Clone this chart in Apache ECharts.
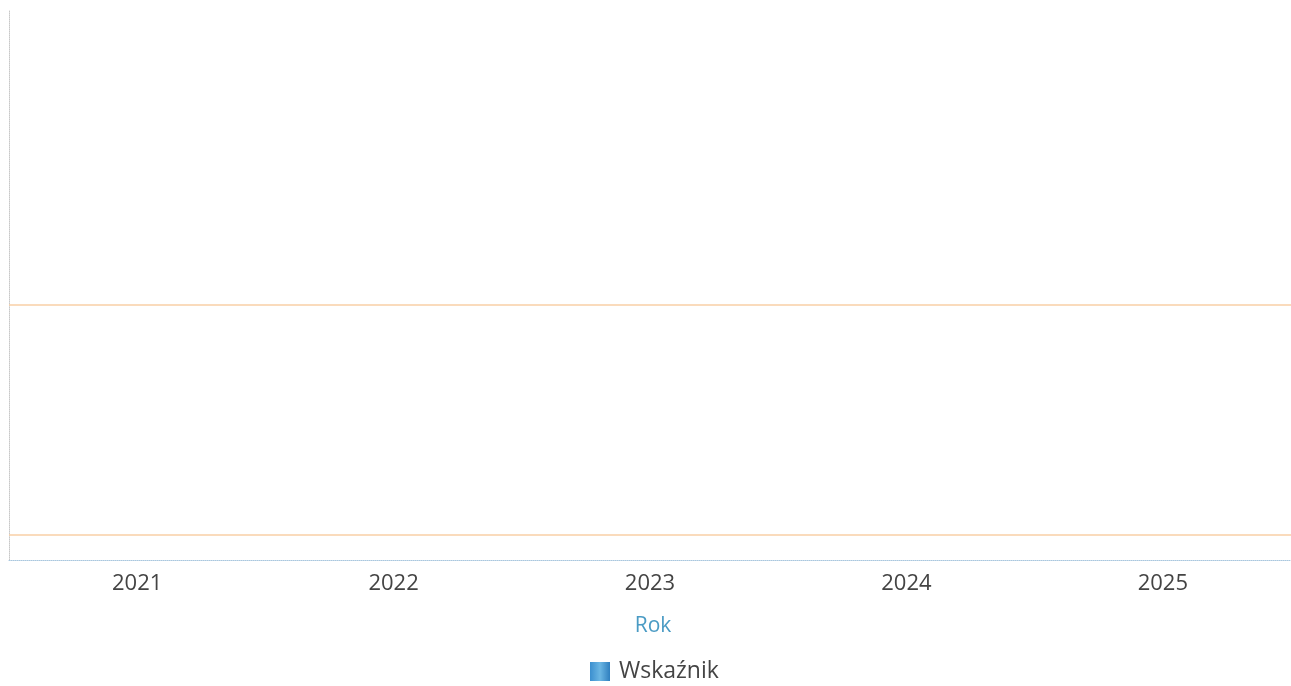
<!DOCTYPE html>
<html>
<head>
<meta charset="utf-8">
<script src="https://cdn.jsdelivr.net/npm/echarts@6/dist/echarts.min.js"></script>
<style>html,body{margin:0;padding:0;background:#fff}#c{width:1291px;height:686px}</style>
</head>
<body>
<div id="c"></div>
<script>
const categories = ['2021', '2022', '2023', '2024', '2025'];
const seriesName = 'Wskaźnik';
const values = [0, 0, 0, 0, 0];
const markValues = [10.2, 1];

const chart = echarts.init(document.getElementById('c'));
chart.setOption({
  animation: false,
  textStyle: { fontFamily: 'Open Sans' },
  grid: { left: 9, right: -3, top: 10, bottom: 126, containLabel: false },
  legend: {
    top: 655,
    left: 585,
    icon: 'rect',
    itemWidth: 20,
    itemHeight: 19,
    itemGap: 10,
    textStyle: { fontSize: 23, color: '#444', fontFamily: 'Open Sans', padding: [0, 0, 0, 4] },
    data: [seriesName]
  },
  xAxis: {
    type: 'category',
    data: categories,
    name: 'Rok',
    nameLocation: 'middle',
    nameGap: 56,
    nameTextStyle: { fontSize: 21, color: '#4a9bc4', padding: [0, 0, 0, 6] },
    axisLine: { lineStyle: { color: '#a9c7de', type: 'dotted', width: 1 } },
    axisTick: { show: false },
    axisLabel: { fontSize: 22, color: '#444', margin: 13 },
    splitLine: { show: false }
  },
  yAxis: {
    type: 'value',
    min: 0,
    max: 22,
    axisLine: { show: true, lineStyle: { color: '#c8c8c8', type: 'dotted', width: 1 } },
    axisTick: { show: false },
    axisLabel: { show: false },
    splitLine: { show: false }
  },
  series: [{
    name: seriesName,
    type: 'bar',
    data: values,
    itemStyle: {
      color: new echarts.graphic.LinearGradient(0, 0, 1, 0, [
        { offset: 0, color: '#3b8fcf' },
        { offset: 0.5, color: '#6bb6e3' },
        { offset: 1, color: '#2f7fbf' }
      ])
    },
    markLine: {
      silent: true,
      symbol: 'none',
      label: { show: false },
      lineStyle: { color: '#f9cfa6', type: 'solid', width: 1.5 },
      data: markValues.map(v => ({ yAxis: v }))
    }
  }]
});
</script>
</body>
</html>
